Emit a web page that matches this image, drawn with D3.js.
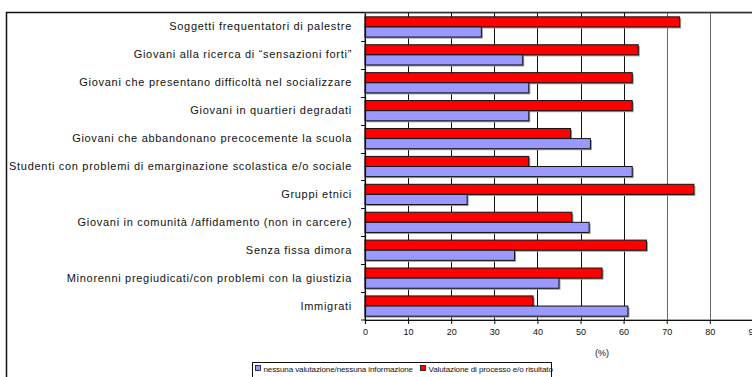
<!DOCTYPE html>
<html>
<head>
<meta charset="utf-8">
<script src="https://cdn.jsdelivr.net/npm/d3@7"></script>
<style>
  html, body { margin: 0; padding: 0; background: #fff; }
  svg { display: block; }
  text { font-family: "Liberation Sans", Arial, sans-serif; fill: #111; }
</style>
</head>
<body>
<svg id="chart" width="752" height="377"></svg>
<script>
// Target groups, listed top to bottom
const categories = [
  "Soggetti frequentatori di palestre",
  "Giovani alla ricerca di \u201csensazioni forti\u201d",
  "Giovani che presentano difficoltà nel socializzare",
  "Giovani in quartieri degradati",
  "Giovani che abbandonano precocemente la scuola",
  "Studenti con problemi di emarginazione scolastica e/o sociale",
  "Gruppi etnici",
  "Giovani in comunità /affidamento (non in carcere)",
  "Senza fissa dimora",
  "Minorenni  pregiudicati/con problemi con la giustizia",
  "Immigrati"
];

// Share (%) of projects with a process and/or outcome evaluation
const valutazione = [73, 63.4, 62, 62, 47.7, 38, 76.3, 48, 65.3, 55, 39];
// Share (%) of projects with no evaluation / no information
const nessuna = [27, 36.6, 38, 38, 52.3, 62, 23.7, 52, 34.7, 45, 61];

const seriesNames = ["Valutazione di processo e/o risultato", "nessuna valutazione/nessuna informazione"];
const seriesColors = ["#FF0000", "#9999FF"];
const xTicks = [0, 10, 20, 30, 40, 50, 60, 70, 80, 90, 100];
const axisTitle = "(%)";

const svg = d3.select("#chart");

const plot = { left: 365, top: 13, bottom: 320 };

const x = d3.scaleLinear().domain([0, 100]).range([plot.left, plot.left + 431]);
const y = d3.scaleBand().domain(categories).range([plot.top, plot.bottom]).paddingInner(0).paddingOuter(0);
const sub = d3.scaleBand().domain(seriesNames).range([0, y.bandwidth()]).paddingOuter(0.38).paddingInner(0);

// Outer chart frame
svg.append("rect")
  .attr("x", 6.5).attr("y", 12.5)
  .attr("width", 900).attr("height", 500)
  .attr("fill", "none").attr("stroke", "#111").attr("stroke-width", 1.5);

// Plot background
svg.append("rect")
  .attr("x", plot.left).attr("y", plot.top)
  .attr("width", x(100) - plot.left).attr("height", plot.bottom - plot.top)
  .attr("fill", "#fff").attr("stroke", "#555");

// Vertical gridlines
svg.append("g")
  .selectAll("line")
  .data(xTicks.slice(1))
  .join("line")
  .attr("x1", d => Math.round(x(d)) + 0.5)
  .attr("x2", d => Math.round(x(d)) + 0.5)
  .attr("y1", plot.top).attr("y2", plot.bottom)
  .attr("stroke", d => d >= 70 ? "#666" : "#111")
  .attr("stroke-width", 1);

// Bars
const rows = categories.map((c, i) => ({ cat: c, values: [valutazione[i], nessuna[i]] }));

const group = svg.append("g")
  .selectAll("g")
  .data(rows)
  .join("g")
  .attr("transform", d => `translate(0,${y(d.cat)})`);

const bars = group.selectAll("g.bar")
  .data(d => d.values.map((v, k) => ({ name: seriesNames[k], value: v, color: seriesColors[k] })))
  .join("g")
  .attr("class", "bar");

// soft drop shadow
bars.append("rect")
  .attr("x", x(0) + 1.5)
  .attr("y", d => sub(d.name) + 1.5)
  .attr("width", d => x(d.value) - x(0))
  .attr("height", sub.bandwidth())
  .attr("fill", "#999");

bars.append("rect")
  .attr("x", x(0))
  .attr("y", d => sub(d.name))
  .attr("width", d => x(d.value) - x(0))
  .attr("height", sub.bandwidth())
  .attr("fill", d => d.color)
  .attr("stroke", "#111")
  .attr("stroke-width", 1);

// Category axis
const yAxis = svg.append("g")
  .attr("transform", `translate(${plot.left},0)`)
  .call(d3.axisLeft(y).tickSize(0).tickPadding(13));
yAxis.select(".domain").attr("stroke", "#111").attr("stroke-width", 1.2);
yAxis.selectAll("text")
  .attr("font-size", 11)
  .attr("letter-spacing", "0.7px")
  .attr("fill", "#111");

// Small ticks between categories
svg.append("g")
  .selectAll("line")
  .data(categories.slice(1).concat([null]))
  .join("line")
  .attr("x1", plot.left - 4).attr("x2", plot.left)
  .attr("y1", d => d ? Math.round(y(d)) + 0.5 : plot.bottom)
  .attr("y2", d => d ? Math.round(y(d)) + 0.5 : plot.bottom)
  .attr("stroke", "#111");

// Value axis
const xAxis = svg.append("g")
  .attr("transform", `translate(0,${plot.bottom})`)
  .call(d3.axisBottom(x).tickValues(xTicks).tickSize(4).tickPadding(5).tickFormat(d3.format("d")));
xAxis.select(".domain").attr("stroke", "#111").attr("stroke-width", 1.2);
xAxis.selectAll("line").attr("stroke", "#111");
xAxis.selectAll("text").attr("font-size", 9).attr("fill", "#222");

svg.append("text")
  .attr("x", x(55)).attr("y", 356)
  .attr("text-anchor", "middle")
  .attr("font-size", 9)
  .attr("fill", "#222")
  .text(axisTitle);

// Legend
const legend = svg.append("g").attr("transform", "translate(252.5,362.5)");
legend.append("rect")
  .attr("width", 299).attr("height", 30)
  .attr("fill", "#fff").attr("stroke", "#111");

const legendItems = [
  { name: seriesNames[1], color: seriesColors[1], x: 3 },
  { name: seriesNames[0], color: seriesColors[0], x: 168 }
];
const li = legend.selectAll("g.item")
  .data(legendItems)
  .join("g")
  .attr("class", "item")
  .attr("transform", d => `translate(${d.x},3)`);
li.append("rect")
  .attr("width", 5).attr("height", 5)
  .attr("fill", d => d.color).attr("stroke", "#111").attr("stroke-width", 0.8);
li.append("text")
  .attr("x", 8).attr("y", 6)
  .attr("font-size", 8)
  .attr("letter-spacing", "-0.1px")
  .text(d => d.name);
</script>
</body>
</html>
